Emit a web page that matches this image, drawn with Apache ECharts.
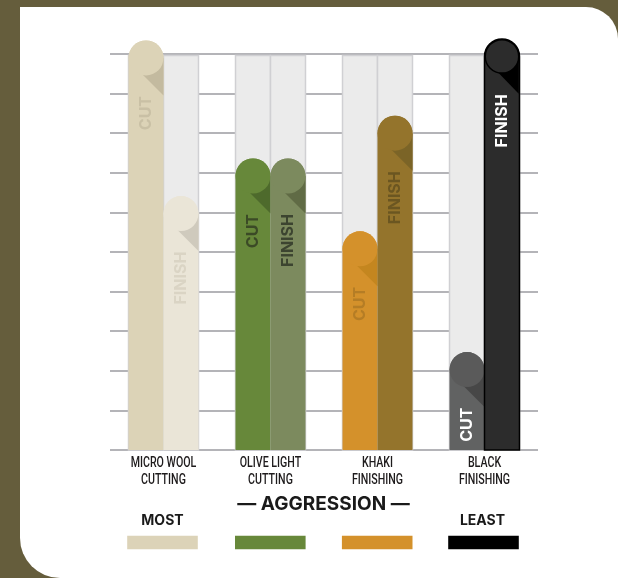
<!DOCTYPE html>
<html><head><meta charset="utf-8">
<script src="https://cdn.jsdelivr.net/npm/echarts@6/dist/echarts.min.js"></script>
<style>
html,body{margin:0;padding:0;background:#655d3c;width:618px;height:578px;overflow:hidden;}
#panel{position:absolute;left:20px;top:7px;width:598px;height:571px;background:#fff;border-radius:0 32px 0 40px;}
#c{position:absolute;left:0;top:0;width:618px;height:578px;}
</style>
</head><body><div id="panel"></div><div id="c"></div>
<script>
// ---- data ----
const categories = ['MICRO WOOL\nCUTTING', 'OLIVE LIGHT\nCUTTING', 'KHAKI\nFINISHING', 'BLACK\nFINISHING'];
const cutValues = [9.9, 6.92, 5.08, 2.03];
const finishValues = [5.97, 6.92, 8.0, 9.94];
const scaleMax = 10;
const seriesNames = ['CUT', 'FINISH'];
const axisTitle = '— AGGRESSION —';
const rankLabels = ['MOST', 'LEAST'];

// ---- styles ----
const cutStyle = {
  bar:    ['#dcd3b7', '#67883a', '#d4912b', '#616262'],
  circle: ['#dcd3b7', '#67883a', '#d4912b', '#5a5a5a'],
  shadow: ['#c3ba9f', '#4e6a2c', '#c4861f', '#474747'],
  text:   ['#c9c0a5', '#3b4a26', '#b57d25', '#ffffff'],
  stroke: [null, null, null, null]
};
const finishStyle = {
  bar:    ['#eae5d7', '#7c8a5e', '#94742c', '#2c2c2c'],
  circle: ['#eae5d7', '#7c8a5e', '#94742c', '#2c2c2c'],
  shadow: ['#cfcabd', '#606b45', '#7b6427', '#000000'],
  text:   ['#dad4c4', '#3c4430', '#6b5621', '#ffffff'],
  stroke: [null, null, null, '#000000']
};
const legendColors = ['#dcd3b8', '#67883a', '#d4912b', '#000000'];
const legendX = [162.5, 270.3, 377.2, 483.5];

const BAR_FRAC = 0.327;
const LABEL_FONT = '700 16px Inter, "Open Sans", sans-serif';

function makeRender(slot, name, st) {
  return function (params, api) {
    const i = api.value(0), v = api.value(1);
    const base = api.coord([i, 0]);
    const top = api.coord([i, v]);
    const w = api.size([1, 0])[0] * BAR_FRAC;
    const r = w / 2;
    const x0 = base[0] + (slot === 0 ? -w : 0);
    const cx = x0 + r, cy = top[1];
    const c = r * 1.14;
    const stroke = st.stroke[i];
    const inset = stroke ? 0.75 : 0;
    return {
      type: 'group',
      children: [
        { type: 'rect', shape: { x: x0, y: cy - r, width: w, height: base[1] - cy + r, r: [r, r, 0, 0] },
          style: { fill: st.bar[i], stroke: stroke || null, lineWidth: stroke ? 1.5 : 0 } },
        { type: 'polygon', shape: { points: [[cx - 8, cy + c - 8], [cx + r - inset, cy + r + c], [cx + r - inset, cy]] },
          style: { fill: st.shadow[i] } },
        { type: 'circle', shape: { cx: cx, cy: cy, r: r - inset },
          style: { fill: st.circle[i], stroke: stroke || null, lineWidth: stroke ? 1.5 : 0 } },
        { type: 'text', x: cx, y: cy + 38, rotation: Math.PI / 2,
          style: { text: name, fill: st.text[i], font: LABEL_FONT, align: 'right', verticalAlign: 'middle' } }
      ]
    };
  };
}

function renderBackground(params, api) {
  const i = api.value(0);
  const base = api.coord([i, 0]);
  const top = api.coord([i, scaleMax]);
  const w = api.size([1, 0])[0] * BAR_FRAC;
  const children = [];
  for (let s = 0; s < 2; s++) {
    const x0 = base[0] + (s === 0 ? -w : 0);
    children.push({ type: 'rect', shape: { x: x0, y: top[1] + 1.5, width: w, height: base[1] - top[1] - 1.5 },
      style: { fill: '#ebebeb', stroke: '#d0d0d3', lineWidth: 1.5 } });
  }
  return { type: 'group', children: children };
}

function renderCategoryLabel(params, api) {
  const i = api.value(0);
  const base = api.coord([i, 0]);
  return {
    type: 'text', x: base[0], y: base[1] + 5, scaleX: 0.76, silent: true,
    style: { text: categories[i], fill: '#1e1b1c', font: '500 14px Roboto, "Liberation Sans", sans-serif',
      align: 'center', verticalAlign: 'top', lineHeight: 16.7 }
  };
}

const chart = echarts.init(document.getElementById('c'), null, { renderer: 'canvas' });
const graphics = [
  { type: 'text', x: 323.5, y: 504, style: { text: axisTitle, fill: '#1a1a1a', font: '700 19px Inter, sans-serif', align: 'center', verticalAlign: 'middle' } },
  { type: 'text', x: 162.5, y: 520.5, style: { text: rankLabels[0], fill: '#1a1a1a', font: '700 14px Inter, sans-serif', align: 'center', verticalAlign: 'middle' } },
  { type: 'text', x: 482.5, y: 520.5, style: { text: rankLabels[1], fill: '#1a1a1a', font: '700 14px Inter, sans-serif', align: 'center', verticalAlign: 'middle' } }
];
legendColors.forEach(function (col, k) {
  graphics.push({ type: 'rect', shape: { x: legendX[k] - 35.3, y: 535.7, width: 70.6, height: 13.6 }, style: { fill: col } });
});

chart.setOption({
  backgroundColor: 'transparent',
  animation: false,
  grid: { left: 110, right: 80, top: 54, bottom: 128 },
  xAxis: {
    type: 'category', data: categories,
    axisLine: { show: false }, axisTick: { show: false },
    axisLabel: { show: false }
  },
  yAxis: {
    type: 'value', min: 0, max: scaleMax, interval: 1,
    axisLabel: { show: false }, axisLine: { show: false }, axisTick: { show: false },
    splitLine: { lineStyle: { color: '#b4b4b8', width: 2 } }
  },
  graphic: graphics,
  series: [
    { type: 'custom', name: 'bg', renderItem: renderBackground, data: categories.map(function (_, i) { return [i, scaleMax]; }), z: 1 },
    { type: 'custom', name: seriesNames[0], renderItem: makeRender(0, seriesNames[0], cutStyle), data: cutValues.map(function (v, i) { return [i, v]; }), z: 3 },
    { type: 'custom', name: seriesNames[1], renderItem: makeRender(1, seriesNames[1], finishStyle), data: finishValues.map(function (v, i) { return [i, v]; }), z: 3 },
    { type: 'custom', name: 'categoryLabels', renderItem: renderCategoryLabel, data: categories.map(function (_, i) { return [i, 0]; }), z: 4, silent: true }
  ]
});
</script>
</body></html>
